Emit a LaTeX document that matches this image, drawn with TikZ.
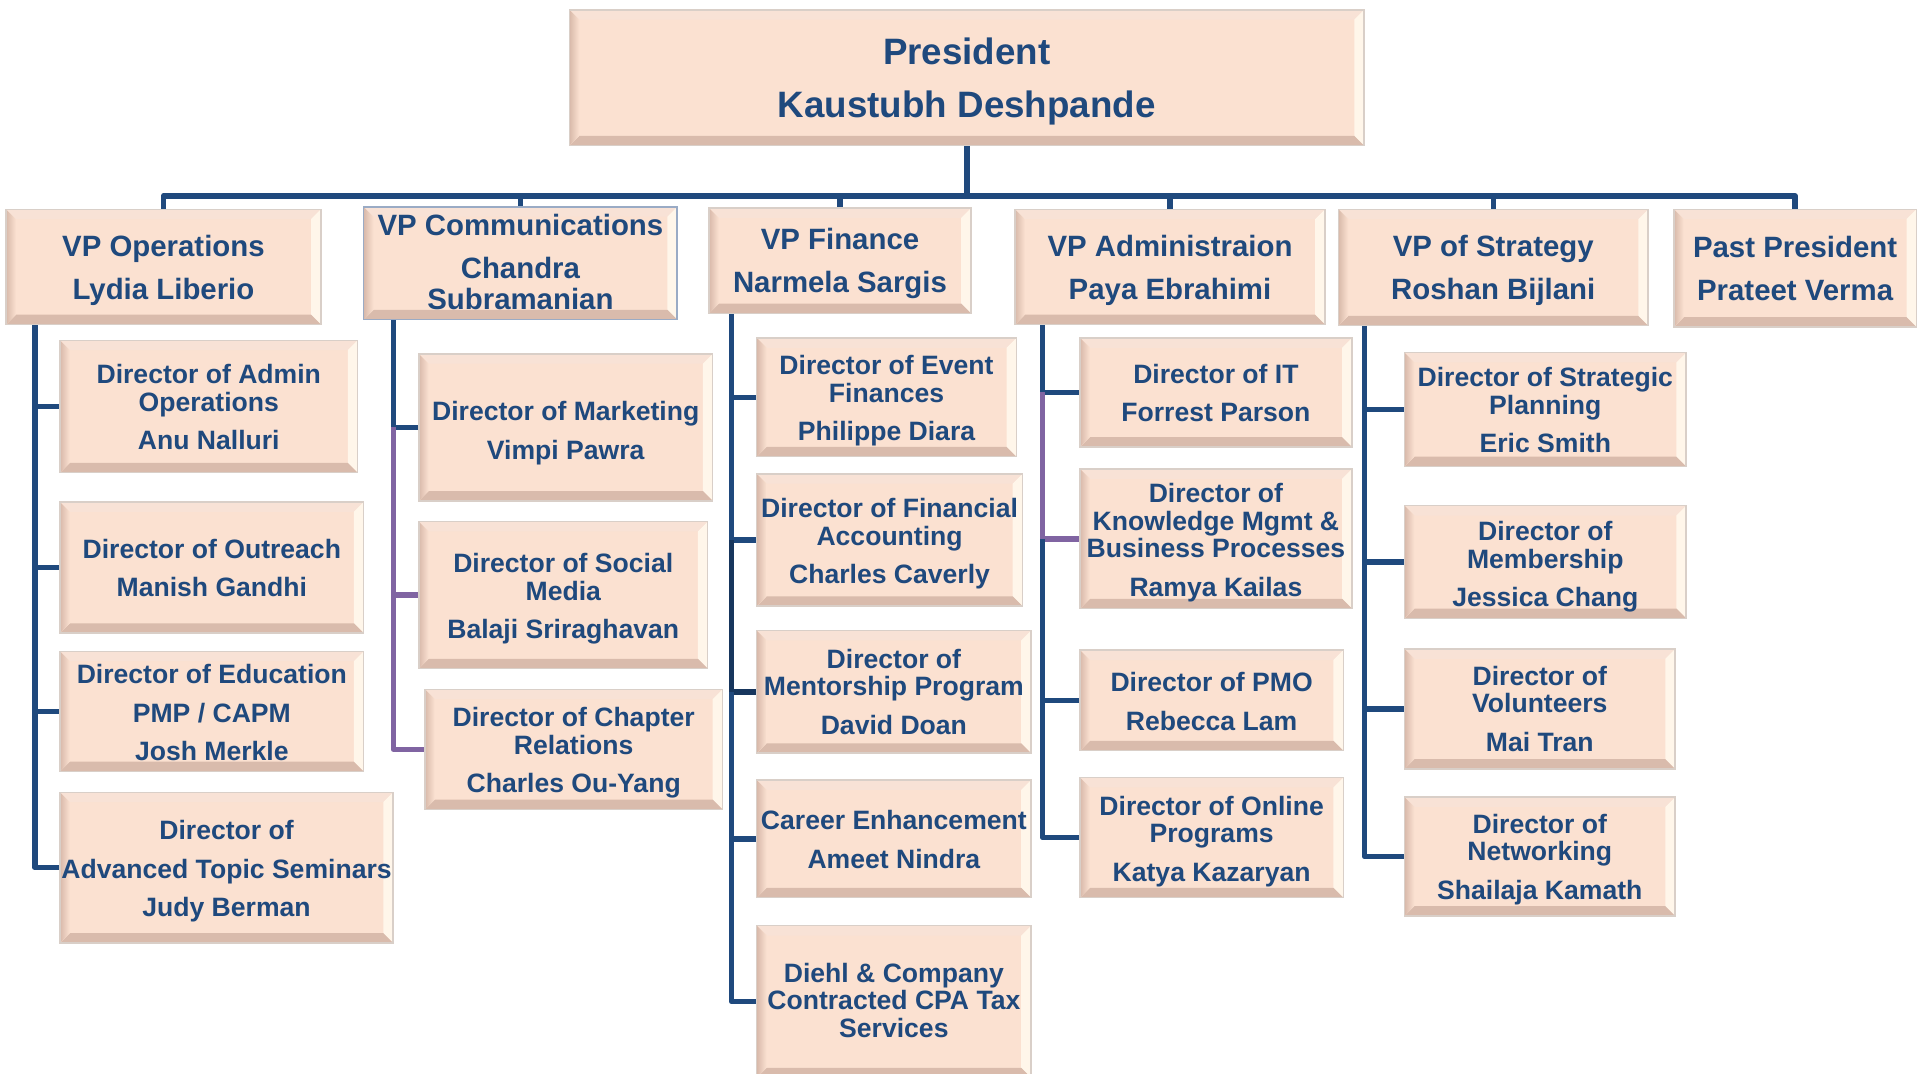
\documentclass[tikz,border=0pt]{standalone}
\usepackage{fontspec}
\setmainfont{Liberation Sans}
\definecolor{navy}{HTML}{1F497D}
\definecolor{navydk}{HTML}{17365D}
\definecolor{lilac}{HTML}{8064A2}
\definecolor{peach}{HTML}{FBE1D1}
\definecolor{peachedge}{HTML}{D9CFC8}
\definecolor{bevleft}{HTML}{D8B9AA}
\definecolor{bevtop}{HTML}{F8E2D6}
\definecolor{bevright}{HTML}{FFF6EA}
\definecolor{bevbottom}{HTML}{D9BBAC}
\definecolor{selframe}{HTML}{9AABC5}
\tikzset{
  conn/.style={line width=4.5pt, draw=navy, line join=round},
  card/.style={draw=peachedge, line width=1.2pt, fill=peach, inner sep=0pt,
    path picture={
      \coordinate (bNW) at (path picture bounding box.north west);
      \coordinate (bSE) at (path picture bounding box.south east);
      \coordinate (bNE) at (bSE |- bNW);
      \coordinate (bSW) at (bNW |- bSE);
      \coordinate (iNW) at ([shift={(8pt,-8pt)}]bNW);
      \coordinate (iNE) at ([shift={(-8pt,-8pt)}]bNE);
      \coordinate (iSE) at ([shift={(-8pt,8pt)}]bSE);
      \coordinate (iSW) at ([shift={(8pt,8pt)}]bSW);
      \fill[bevtop] (bNW) -- (bNE) -- (iNE) -- (iNW) -- cycle;
      \fill[bevright] (bNE) -- (bSE) -- (iSE) -- (iNE) -- cycle;
      \fill[bevbottom] (bSW) -- (bSE) -- (iSE) -- (iSW) -- cycle;
      \fill[left color=bevleft, right color=peach] (bNW) -- (iNW) -- (iSW) -- (bSW) -- cycle;
    }},
  cardtext/.style={text=navy, align=center, inner sep=0pt},
  ptext/.style={cardtext, font=\fontsize{30}{43}\selectfont\bfseries},
  vtext/.style={cardtext, font=\fontsize{24}{25}\selectfont\bfseries},
  dtext/.style={cardtext, font=\fontsize{21.7}{22.5}\selectfont\bfseries},
}
\begin{document}
\begin{tikzpicture}[x=1pt,y=-1pt]
\useasboundingbox (0,0) rectangle (1568,877);
% president and vice presidents
\node[card, minimum width=649pt, minimum height=111pt, label={[ptext, yshift=-3pt]center:President\\Kaustubh Deshpande}] (pres) at (789.5,63.5) {};
\node[card, minimum width=257pt, minimum height=94pt, label={[vtext, yshift=-2.5pt]center:VP Operations\\[10pt]Lydia Liberio}] (ops) at (133.5,218) {};
\node[card, draw=selframe, minimum width=256pt, minimum height=92pt, label={[vtext, yshift=1pt]center:VP Communications\\[10pt]Chandra\\Subramanian}] (comm) at (425,215) {};
\node[card, minimum width=214pt, minimum height=86pt, label={[vtext, yshift=-2.5pt]center:VP Finance\\[10pt]Narmela Sargis}] (fin) at (686,213) {};
\node[card, minimum width=253pt, minimum height=94pt, label={[vtext, yshift=-2.5pt]center:VP Administraion\\[10pt]Paya Ebrahimi}] (adm) at (955.5,218) {};
\node[card, minimum width=253pt, minimum height=95pt, label={[vtext, yshift=-2.5pt]center:VP of Strategy\\[10pt]Roshan Bijlani}] (strat) at (1219.5,218.5) {};
\node[card, minimum width=198pt, minimum height=96pt, label={[vtext, yshift=-0.5pt]center:Past President\\[10pt]Prateet Verma}] (past) at (1466,219) {};
% operations
\node[card, minimum width=243pt, minimum height=108pt, label={[dtext, yshift=-0.5pt]center:Director of Admin\\Operations\\[9pt]Anu Nalluri}] (o1) at (170.5,332) {};
\node[card, minimum width=248pt, minimum height=107pt, label={[dtext, yshift=-0.5pt]center:Director of Outreach\\[9pt]Manish Gandhi}] (o2) at (173,463.5) {};
\node[card, minimum width=248pt, minimum height=98pt, label={[dtext, yshift=-1pt]center:Director of Education\\[9pt]PMP / CAPM\\[9pt]Josh Merkle}] (o3) at (173,581) {};
\node[card, minimum width=272pt, minimum height=123pt, label={[dtext, yshift=-3pt]center:Director of\\[9pt]Advanced Topic Seminars\\[9pt]Judy Berman}] (o4) at (185,708.5) {};
% communications
\node[card, minimum width=240pt, minimum height=120pt, label={[dtext, yshift=-4.5pt]center:Director of Marketing\\[9pt]Vimpi Pawra}] (c1) at (462,349) {};
\node[card, minimum width=236pt, minimum height=120pt, label={[dtext, yshift=-3pt]center:Director of Social\\Media\\[9pt]Balaji Sriraghavan}] (c2) at (460,486) {};
\node[card, minimum width=243pt, minimum height=98pt, label={[dtext, yshift=-3pt]center:Director of Chapter\\Relations\\[9pt]Charles Ou-Yang}] (c3) at (468.5,612) {};
% finance
\node[card, minimum width=212pt, minimum height=97pt, label={[dtext, yshift=-3pt]center:Director of Event\\Finances\\[9pt]Philippe Diara}] (f1) at (724,324.5) {};
\node[card, minimum width=217pt, minimum height=108pt, label={[dtext, yshift=-3pt]center:Director of Financial\\Accounting\\[9pt]Charles Caverly}] (f2) at (726.5,441) {};
\node[card, minimum width=224pt, minimum height=100pt, label={[dtext]center:Director of\\Mentorship Program\\[9pt]David Doan}] (f3) at (730,565) {};
\node[card, minimum width=224pt, minimum height=96pt, label={[dtext, yshift=-0.5pt]center:Career Enhancement\\[9pt]Ameet Nindra}] (f4) at (730,685) {};
\node[card, minimum width=224pt, minimum height=124pt, label={[dtext, yshift=1pt]center:Diehl \& Company\\Contracted CPA Tax\\Services}] (f5) at (730,818) {};
% administration
\node[card, minimum width=222pt, minimum height=89pt, label={[dtext, yshift=-0.5pt]center:Director of IT\\[9pt]Forrest Parson}] (a1) at (993,320.5) {};
\node[card, minimum width=222pt, minimum height=114pt, label={[dtext, yshift=-3pt]center:Director of\\Knowledge Mgmt \&\\Business Processes\\[9pt]Ramya Kailas}] (a2) at (993,440) {};
\node[card, minimum width=215pt, minimum height=82pt, label={[dtext, yshift=-1pt]center:Director of PMO\\[9pt]Rebecca Lam}] (a3) at (989.5,572) {};
\node[card, minimum width=215pt, minimum height=98pt, label={[dtext, yshift=-3pt]center:Director of Online\\Programs\\[9pt]Katya Kazaryan}] (a4) at (989.5,684) {};
% strategy
\node[card, minimum width=230pt, minimum height=93pt, label={[dtext, yshift=-0.5pt]center:Director of Strategic\\Planning\\[9pt]Eric Smith}] (s1) at (1262,334.5) {};
\node[card, minimum width=230pt, minimum height=92pt, label={[dtext, yshift=-4pt]center:Director of\\Membership\\[9pt]Jessica Chang}] (s2) at (1262,459) {};
\node[card, minimum width=221pt, minimum height=98pt, label={[dtext]center:Director of\\Volunteers\\[9pt]Mai Tran}] (s3) at (1257.5,579) {};
\node[card, minimum width=221pt, minimum height=97pt, label={[dtext, yshift=-2.5pt]center:Director of\\Networking\\[9pt]Shailaja Kamath}] (s4) at (1257.5,699.5) {};
% top bus
\coordinate (bus) at (789.5,160);
\draw[conn] (pres.south) -- (bus);
\draw[conn] (bus) -| (ops.north);
\draw[conn] (bus) -| (comm.north);
\draw[conn] (bus) -| (fin.north);
\draw[conn] (bus) -| (adm.north);
\draw[conn] (bus) -| (strat.north);
\draw[conn] (bus) -| (past.north);
% spines
\coordinate (opsT) at ([xshift=24pt]ops.south west);
\coordinate (commT) at ([xshift=25pt]comm.south west);
\coordinate (finT) at ([xshift=19pt]fin.south west);
\coordinate (admT) at ([xshift=23pt]adm.south west);
\coordinate (stratT) at ([xshift=22pt]strat.south west);
\draw[conn] (opsT) |- (o1.west);
\draw[conn] (opsT |- o1.west) |- (o2.west);
\draw[conn] (opsT |- o2.west) |- (o3.west);
\draw[conn] (opsT |- o3.west) |- (o4.west);
\draw[conn] (commT) |- (c1.west);
\draw[conn, draw=lilac] (commT |- c1.west) |- (c2.west);
\draw[conn, draw=lilac] (commT |- c2.west) |- (c3.west);
\draw[conn] (finT) |- (f1.west);
\draw[conn] (finT |- f1.west) |- (f2.west);
\draw[conn, draw=navydk] (finT |- f2.west) |- (f3.west);
\draw[conn] (finT |- f3.west) |- (f4.west);
\draw[conn] (finT |- f4.west) |- (f5.west);
\draw[conn] (admT) |- (a1.west);
\draw[conn, draw=lilac] (admT |- a1.west) |- (a2.west);
\draw[conn] (admT |- a2.west) |- (a3.west);
\draw[conn] (admT |- a3.west) |- (a4.west);
\draw[conn] (stratT) |- (s1.west);
\draw[conn] (stratT |- s1.west) |- (s2.west);
\draw[conn] (stratT |- s2.west) |- (s3.west);
\draw[conn] (stratT |- s3.west) |- (s4.west);
\end{tikzpicture}
\end{document}
